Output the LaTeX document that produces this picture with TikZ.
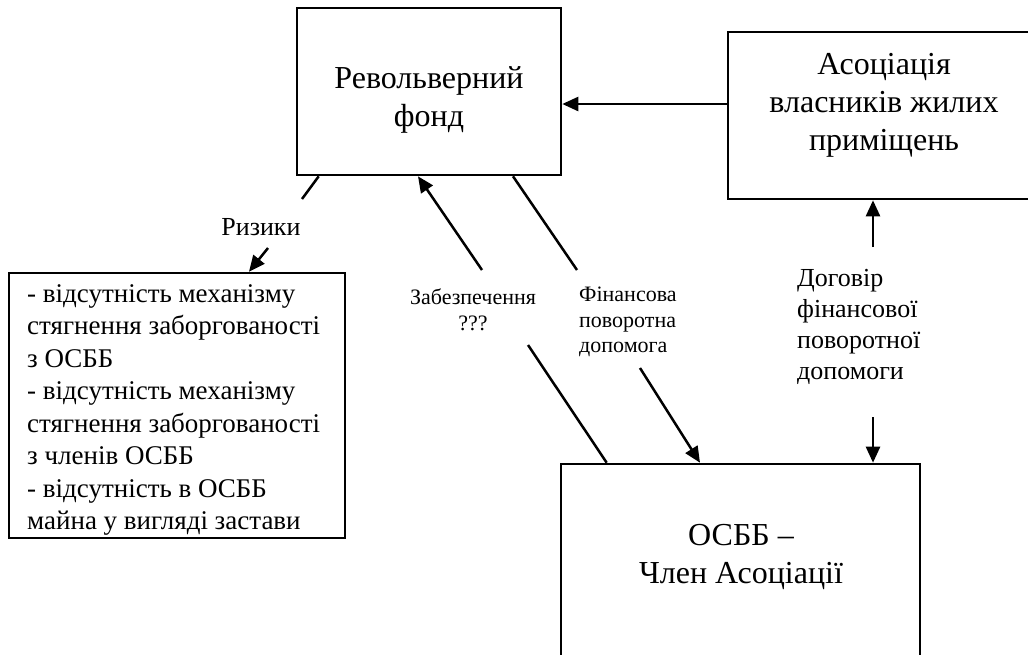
\documentclass[tikz,border=0pt]{standalone}
\usepackage{fontspec}
\setmainfont{Liberation Serif}
\usetikzlibrary{arrows.meta}
\newcommand\myfs[2]{\fontsize{#1}{#2}\selectfont}
\tikzset{
  box/.style={draw, line width=2.6pt, rectangle, inner sep=0pt},
  conn/.style={line width=2.5pt},
  arr/.style={conn, -{Triangle[length=16pt,width=14pt]}},
  bigtxt/.style={align=center, inner sep=0pt, font=\myfs{32}{38}},
  lbl/.style={inner sep=0pt, font=\myfs{22}{25.5}},
}
\begin{document}
\begin{tikzpicture}[x=1pt,y=-1pt]
\useasboundingbox (0,0) rectangle (1028,654);
\clip (0,0) rectangle (1028,654);
% boxes
\node[box, minimum width=264pt, minimum height=167pt] (rf) at (429,91.5) {};
\node[box, minimum width=312pt, minimum height=167pt] (assoc) at (884,115.5) {};
\node[box, minimum width=336pt, minimum height=265pt] (risks) at (177,405.5) {};
\node[box, minimum width=359pt, minimum height=250pt] (osbb) at (740.5,589) {};
% box texts
\node[bigtxt] (rft) at (429,100) {Револьверний\\фонд};
\node[bigtxt] (assoct) at (884,105) {Асоціація\\власників жилих\\приміщень};
\node[bigtxt] (osbbt) at (741,557) {ОСББ –\\Член Асоціації};
\node[anchor=north west, align=left, inner sep=0pt, font=\myfs{27}{32.5}] (riskst) at (27,284)
  {- відсутність механізму\\стягнення заборгованості\\з ОСББ\\- відсутність механізму\\стягнення заборгованості\\з членів ОСББ\\- відсутність в ОСББ\\майна у вигляді застави};
% labels
\node[inner sep=0pt, font=\myfs{26}{31}] (riz) at (261,227) {Ризики};
\node[lbl, align=center] (zab) at (473,310) {Забезпечення\\???};
\node[lbl, align=left, anchor=west] (fin) at (579,322) {Фінансова\\поворотна\\допомога};
\node[inner sep=0pt, align=left, anchor=west, font=\myfs{26}{31}] (dog) at (797,327) {Договір\\фінансової\\поворотної\\допомоги};
% coordinates of free ends
\coordinate (r2) at (302,199);
\coordinate (r3) at (268,248);
\coordinate (z1) at (528,345);
\coordinate (z2) at (482,270);
\coordinate (f1) at (577,270);
\coordinate (f2) at (640,368);
\coordinate (d1) at (873,247);
\coordinate (d2) at (873,417);
\coordinate (aw) at ([yshift=11.5pt]assoc.west);
% connectors
\draw[arr] (aw) -- (aw -| rf.east);
\draw[conn] ([xshift=23pt]rf.south west) -- (r2);
\draw[arr] (r3) -- ([xshift=72pt]risks.north);
\draw[conn] ([xshift=47pt]osbb.north west) -- (z1);
\draw[arr] (z2) -- ([xshift=-11pt]rf.south);
\draw[conn] ([xshift=84pt]rf.south) -- (f1);
\draw[arr] (f2) -- ([xshift=-40.5pt]osbb.north);
\draw[arr] (d1) -- ([xshift=-11pt]assoc.south);
\draw[arr] (d2) -- ([xshift=132.5pt]osbb.north);
\end{tikzpicture}
\end{document}
